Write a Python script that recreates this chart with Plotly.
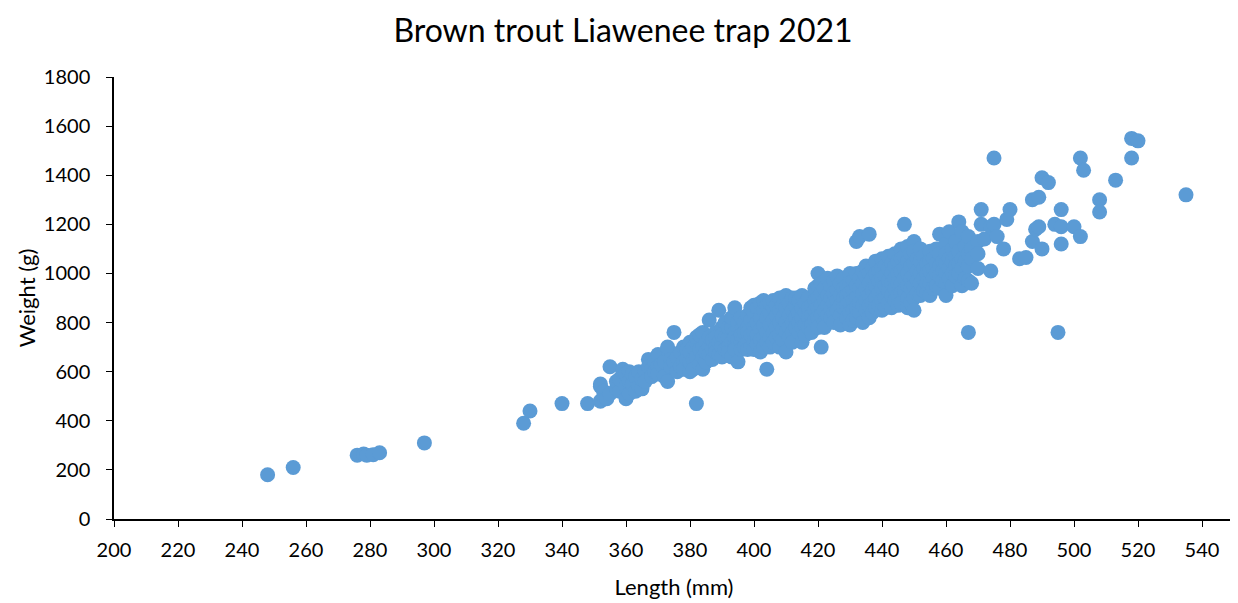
import plotly.graph_objects as go

# small fish (left tail)
small_len = [248, 256, 276, 278, 279, 281, 283, 297, 328, 330, 340, 348, 382, 404]
small_wt = [180, 210, 260, 265, 260, 262, 270, 310, 390, 440, 470, 470, 470, 610]

# main cluster, weights listed per length
cluster = {
    352: [480, 540, 550], 353: [500, 520], 354: [490], 355: [620, 510],
    357: [530, 560], 358: [520, 570], 359: [600, 610], 360: [490, 540, 590],
    361: [510, 600, 560], 362: [550, 590], 363: [580, 520], 364: [540, 600],
    365: [530, 570], 366: [600, 560], 367: [650, 620], 368: [610, 580],
    369: [640, 600], 370: [670, 620, 590], 371: [630], 372: [580, 640],
    373: [560, 690, 700], 374: [650, 620], 375: [760, 640], 376: [660, 600],
    377: [620, 680], 378: [640, 610, 700], 379: [690, 650],
    380: [600, 640, 720, 680], 381: [650, 700, 610], 382: [720, 660, 740],
    383: [690, 630, 750], 384: [700, 660, 760, 610], 385: [640, 720, 680],
    386: [810, 700, 670, 740], 387: [690, 730, 650], 388: [760, 700, 680, 740],
    389: [850, 720, 670], 390: [720, 780, 700, 660, 750], 391: [740, 690, 800],
    392: [740, 780, 700, 680], 393: [780, 820, 720, 660],
    394: [860, 760, 710, 740, 690], 395: [640, 780, 730, 800],
    396: [770, 720, 690, 820, 750], 397: [800, 740, 700, 760],
    398: [830, 780, 720, 690, 760], 399: [810, 750, 700, 860],
    400: [780, 840, 720, 690, 870, 760], 401: [800, 750, 860, 710],
    402: [820, 770, 730, 880, 680], 403: [850, 790, 740, 700, 890],
    404: [820, 760, 870, 720], 405: [840, 790, 880, 740, 700],
    406: [860, 810, 760, 890, 720], 407: [830, 780, 870, 740],
    408: [850, 800, 750, 900, 700], 409: [870, 820, 770, 730],
    410: [910, 860, 800, 760, 680], 411: [880, 830, 780, 740],
    412: [900, 850, 800, 760, 720], 413: [870, 820, 780, 900],
    414: [890, 840, 800, 760], 415: [910, 860, 820, 780, 720],
    416: [880, 840, 790, 750], 417: [900, 860, 820, 780],
    418: [870, 830, 790, 760], 419: [940, 890, 850, 810],
    420: [1000, 950, 900, 860, 820, 780], 421: [700, 920, 870, 830, 960],
    422: [940, 890, 850, 800, 780], 423: [980, 910, 870, 830],
    424: [950, 900, 860, 820], 425: [970, 920, 880, 840, 800],
    426: [930, 890, 850, 990], 427: [960, 910, 870, 830, 790],
    428: [980, 940, 900, 860], 429: [950, 910, 870, 820],
    430: [1000, 960, 920, 880, 840, 790], 431: [970, 930, 890, 850, 810],
    432: [1130, 1000, 950, 900, 860, 820], 433: [1150, 980, 940, 880, 840],
    434: [1010, 960, 920, 870, 800], 435: [1030, 990, 940, 890, 850],
    436: [1160, 1000, 960, 910, 870, 820], 437: [1020, 980, 930, 880, 840],
    438: [1050, 1000, 950, 900, 860], 439: [1010, 970, 920, 870],
    440: [1060, 1020, 980, 940, 890, 850], 441: [1030, 990, 950, 900, 860],
    442: [1070, 1020, 970, 930, 880], 443: [1040, 1000, 960, 910, 860],
    444: [1080, 1030, 980, 940, 890], 445: [1050, 1000, 960, 910, 870],
    446: [1100, 1060, 1010, 960, 920, 880], 447: [1200, 1070, 1020, 980, 930],
    448: [1110, 1050, 1000, 950, 900, 860], 449: [1080, 1030, 980, 940, 880],
    450: [1130, 1090, 1040, 990, 950, 900, 850], 451: [1060, 1010, 970, 920],
    452: [1100, 1050, 1000, 960, 910], 453: [1070, 1020, 980, 930],
    454: [1040, 1000, 960, 920], 455: [1090, 1050, 1010, 960, 910],
    456: [1060, 1020, 980, 940], 457: [1100, 1040, 1000, 950],
    458: [1160, 1080, 1030, 990, 940], 459: [1050, 1010, 970],
    460: [1120, 1080, 1040, 1000, 960, 910], 461: [1170, 1060, 1020, 980],
    462: [1100, 1050, 1000, 950], 463: [1130, 1070, 1030, 990],
    464: [1210, 1090, 1040, 1000], 465: [1170, 1060, 1020, 950],
    466: [1110, 1050, 980], 467: [1150, 1080, 1030, 970, 760],
    468: [1100, 1060, 960],
}

# large fish (right tail)
large_len = [470, 470, 470, 471, 471, 472, 474, 474, 475, 475, 476, 478, 479, 480,
             483, 485, 487, 487, 488, 489, 489, 490, 490, 492, 494, 495, 496, 496,
             496, 500, 502, 502, 503, 508, 508, 513, 518, 518, 520, 535]
large_wt = [1130, 1080, 1020, 1200, 1260, 1140, 1190, 1010, 1200, 1470, 1150, 1100, 1220, 1260,
            1060, 1065, 1300, 1130, 1180, 1310, 1190, 1100, 1390, 1370, 1200, 760, 1260, 1190,
            1120, 1190, 1150, 1470, 1420, 1300, 1250, 1380, 1550, 1470, 1540, 1320]

length_mm = small_len + [k for k, v in cluster.items() for _ in v] + large_len
weight_g = small_wt + [w for v in cluster.values() for w in v] + large_wt

fig = go.Figure(go.Scatter(
    x=length_mm, y=weight_g, mode="markers",
    marker=dict(color="#5B9BD5", size=15, line=dict(width=0)),
))

fig.update_layout(
    width=1230, height=595,
    title=dict(text="Brown trout Liawenee trap 2021", x=0.5, xanchor="center",
               y=0.962, yanchor="middle", font=dict(size=32, color="black")),
    font=dict(family="Lato, Open Sans, sans-serif", color="black", size=20),
    margin=dict(l=106, r=4, t=69, b=84),
    plot_bgcolor="white", paper_bgcolor="white",
    showlegend=False,
)
fig.update_xaxes(
    range=[200, 550], tick0=200, dtick=20, showgrid=False, zeroline=False,
    showline=True, linecolor="black", linewidth=1.5, automargin=False,
    ticks="outside", ticklen=6, tickcolor="black", ticklabelstandoff=6,
    title=dict(text="Length (mm)", font=dict(size=22), standoff=20),
)
fig.update_yaxes(
    range=[0, 1800], dtick=200, showgrid=False, zeroline=False,
    showline=True, linecolor="black", linewidth=1.5, automargin=False,
    ticks="outside", ticklen=6, tickcolor="black", ticklabelstandoff=12,
    title=dict(text="Weight (g)", font=dict(size=22), standoff=2),
)

fig.write_html("out.html")
